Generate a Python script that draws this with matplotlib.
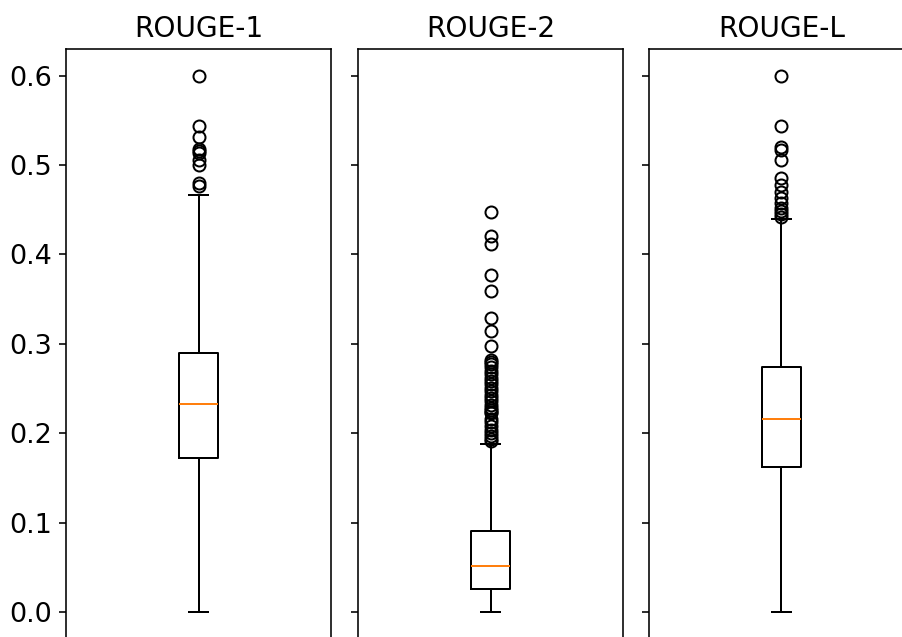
import matplotlib
matplotlib.use("Agg")
import matplotlib.pyplot as plt

# ROUGE score distributions: five-number summaries plus outliers
metrics = ["ROUGE-1", "ROUGE-2", "ROUGE-L"]

r1_stats = dict(q1=0.1726, med=0.2323, q3=0.2894, whislo=0.0, whishi=0.4659)
r1_fliers = [0.600, 0.543, 0.531, 0.518, 0.516, 0.513, 0.506, 0.500, 0.480, 0.476]

r2_stats = dict(q1=0.0257, med=0.0511, q3=0.0906, whislo=0.0, whishi=0.1880)
r2_fliers = [0.447, 0.420, 0.412, 0.377, 0.359, 0.329, 0.314, 0.298,
             0.282, 0.280, 0.277, 0.274, 0.270, 0.266, 0.262, 0.258,
             0.255, 0.251, 0.247, 0.243, 0.239, 0.236, 0.232, 0.228,
             0.226, 0.224, 0.222, 0.216, 0.212, 0.208, 0.204, 0.200,
             0.197, 0.194, 0.191]

rl_stats = dict(q1=0.1619, med=0.2155, q3=0.2744, whislo=0.0, whishi=0.4395)
rl_fliers = [0.600, 0.543, 0.520, 0.517, 0.505, 0.485, 0.477, 0.470,
             0.463, 0.457, 0.452, 0.448, 0.445, 0.442]

summaries = [r1_stats, r2_stats, rl_stats]
outliers = [r1_fliers, r2_fliers, rl_fliers]

plt.rcParams["font.size"] = 14

DPI = 144
fig = plt.figure(figsize=(902 / DPI, 637 / DPI), dpi=DPI)

lefts = [66 / 902, 358 / 902, 649 / 902]
width = 265 / 902
bottom = (637 - 638.8) / 637
height = (638.8 - 48.7) / 637

axes = []
for i, (name, st, fl) in enumerate(zip(metrics, summaries, outliers)):
    if i == 0:
        ax = fig.add_axes([lefts[i], bottom, width, height])
    else:
        ax = fig.add_axes([lefts[i], bottom, width, height], sharey=axes[0])
        ax.tick_params(labelleft=False)
    stat = dict(st)
    stat["fliers"] = fl
    ax.bxp([stat], positions=[1], widths=0.15)
    ax.tick_params(axis="x", labelbottom=False)
    ax.set_title(name, fontsize=14)
    axes.append(ax)

axes[0].set_ylim(-0.03, 0.63)
axes[0].set_yticks([0.0, 0.1, 0.2, 0.3, 0.4, 0.5, 0.6])
axes[0].tick_params(axis="y", labelsize=13.5)

fig.savefig("out.png", dpi=DPI)
